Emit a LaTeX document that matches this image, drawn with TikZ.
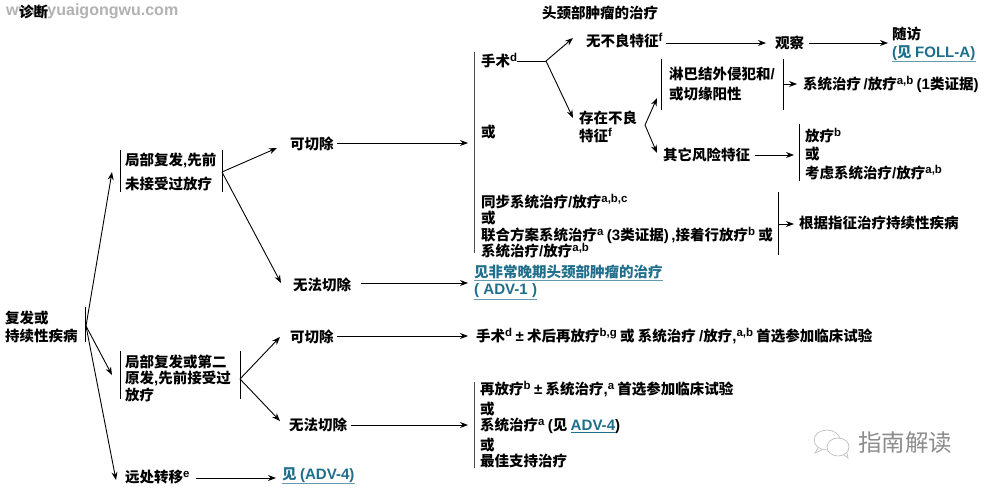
\documentclass[tikz,border=0pt]{standalone}
\usepackage{fontspec}
\usetikzlibrary{arrows.meta}
\setmainfont{Noto Sans CJK SC}
\newfontfamily\latfont[Scale=1.04]{Liberation Sans}
\newcommand{\La}[1]{{\latfont\bfseries #1}}
\newcommand{\Up}[1]{\raisebox{5pt}{\fontsize{11}{11}\selectfont\latfont\bfseries #1}}
\definecolor{linkblue}{HTML}{1F6E8C}
\tikzset{
  txt/.style={anchor=west,inner sep=0pt,align=left,font=\fontsize{14.5}{16.5}\selectfont\bfseries},
  linktxt/.style={txt,text=linkblue},
  arr/.style={-{Stealth[length=8pt,width=6pt]},line width=0.9pt},
  stem/.style={line width=0.9pt},
  barline/.style={line width=0.9pt},
  mainbar/.style={line width=1.7pt,black!70},
  linkline/.style={line width=0.9pt,linkblue!70}
}
\begin{document}
\begin{tikzpicture}[x=1pt,y=-1pt]
  \useasboundingbox (0,0) rectangle (995,487);
  \node[anchor=west,inner sep=0pt,text=black!30,font=\fontsize{15.4}{17}\selectfont\latfont\bfseries] (site) at (6,11) {www.yuaigongwu.com};
  \node[txt] (diag) at (19,12) {诊断};
  \node[txt] (title) at (542,13) {头颈部肿瘤的治疗};
  \node[txt] (recur) at (5,327) {复发或\\[1.5pt]持续性疾病};
  \node[txt] (localA) at (125,172) {局部复发\La{,}先前\\[7pt]未接受过放疗};
  \node[txt] (localB) at (125,378) {局部复发或第二\\原发\La{,}先前接受过\\放疗};
  \node[txt] (distant) at (125,477) {远处转移\Up{e}};
  \node[linktxt] (seeAdvB) at (282,475) {见 \La{(ADV-4)}};
  \node[txt] (cutA) at (290,144) {可切除};
  \node[txt] (nocutA) at (293,285) {无法切除};
  \node[txt] (cutB) at (290,337) {可切除};
  \node[txt] (nocutB) at (289,425) {无法切除};
  \node[txt] (surgery) at (481,61) {手术\Up{d}};
  \node[txt] (orA) at (481,132) {或};
  \node[txt] (chemoA) at (481,226) {同步系统治疗\La{/}放疗\Up{a,b,c}\\或\\联合方案系统治疗\Up{a} \La{(3}类证据\La{)\,,}接着行放疗\Up{b} 或\\系统治疗\La{/}放疗\Up{a,b}};
  \node[linktxt] (seeAdvA) at (474,272) {见非常晚期头颈部肿瘤的治疗};
  \node[linktxt] (seeAdvC) at (474,291) {\La{( ADV-1 )}};
  \node[txt] (planB) at (476,336) {手术\Up{d} \La{±} 术后再放疗\Up{b,g} 或 系统治疗 \La{/}放疗\La{,}\Up{a,b} 首选参加临床试验};
  \node[txt] (planC) at (480,425) {再放疗\Up{b} \La{±} 系统治疗\La{,}\Up{a} 首选参加临床试验\\[3pt]或\\系统治疗\Up{a} \La{(}见 \textcolor{linkblue}{\underline{\La{ADV-4}}}\La{)}\\[3pt]或\\最佳支持治疗};
  \node[txt] (noRisk) at (586,41) {无不良特征\Up{f}};
  \node[txt] (risk) at (579,127) {存在不良\\[2pt]特征\Up{f}};
  \node[txt] (watch) at (775,43) {观察};
  \node[txt] (follow) at (892,34) {随访};
  \node[linktxt] (seeFoll) at (892,53) {\La{(}见 \La{FOLL-A)}};
  \node[txt] (nodes) at (669,84) {淋巴结外侵犯和\La{/}\\[4pt]或切缘阳性};
  \node[txt] (sysA) at (803,84) {系统治疗\,\La{/}放疗\Up{a,b} \La{(1}类证据\La{)}};
  \node[txt] (other) at (663,155) {其它风险特征};
  \node[txt] (radio) at (805,154) {放疗\Up{b}\\[2pt]或\\[2pt]考虑系统治疗\La{/}放疗\Up{a,b}};
  \node[txt] (persist) at (799,223) {根据指征治疗持续性疾病};
  \node[anchor=west,inner sep=0pt,text=black!45,font=\fontsize{23.5}{24}\selectfont] (brand) at (858,443) {指南解读};
  \coordinate (recurFork) at (86,326);
  \coordinate (localAFork) at (222,172);
  \coordinate (localBFork) at (240,379);
  \coordinate (surgeryFork) at (546,61);
  \coordinate (riskFork) at (645,125);
  \coordinate (tipA) at (112,172);
  \coordinate (tipB) at (112,375);
  \coordinate (tipC) at (116,480);
  \coordinate (tipCutA) at (277,148);
  \coordinate (tipNocutA) at (281,283);
  \coordinate (tipCutB) at (280,337);
  \coordinate (tipNocutB) at (280,421);
  \coordinate (tipNoRisk) at (573,38);
  \coordinate (tipRisk) at (573,118);
  \coordinate (tipNodes) at (657,98);
  \coordinate (tipOther) at (657,153);
  \coordinate (barTop) at (468,143);
  \coordinate (barNocut) at (468,283);
  \coordinate (barCut) at (468,336);
  \coordinate (barLow) at (468,425);
  \coordinate (barRadio) at (794,155);
  \coordinate (barNodes) at (783,84);
  \coordinate (barChemo) at (778,224);
  \coordinate (tipWatch) at (766,43);
  \coordinate (tipFollow) at (888,43);
  \coordinate (tipAdvB) at (276,478);
  \foreach \x/\a/\b in {85/307/342,120/150/192,222/150/192,120/351/399,240/351/399,661.5/59/110,783/59/110,778/192/255,799.5/124/181}
    \draw[barline] (\x,\a) -- (\x,\b);
  \foreach \x/\a/\b in {474.5/52/253,474.5/382/468}
    \draw[mainbar] (\x,\a) -- (\x,\b);
  \foreach \n in {seeAdvB,seeAdvA,seeAdvC,seeFoll}
    \draw[linkline] ([yshift=-1pt]\n.south west) -- ([yshift=-1pt]\n.south east);
  \draw[arr] (recurFork) -- (tipA);
  \draw[arr] (recurFork) -- (tipB);
  \draw[arr] (recurFork) -- (tipC);
  \draw[arr] (localAFork) -- (tipCutA);
  \draw[arr] (localAFork) -- (tipNocutA);
  \draw[arr] (localBFork) -- (tipCutB);
  \draw[arr] (localBFork) -- (tipNocutB);
  \draw[arr,shorten <=3pt] (cutA.east |- barTop) -- (barTop);
  \draw[arr,shorten <=10pt] (nocutA.east |- barNocut) -- (barNocut);
  \draw[arr,shorten <=3pt] (cutB.east |- barCut) -- (barCut);
  \draw[arr,shorten <=4pt] (nocutB.east |- barLow) -- (barLow);
  \draw[arr,shorten <=6pt] (distant.east |- tipAdvB) -- (tipAdvB);
  \draw[stem] (surgery.east |- surgeryFork) -- (surgeryFork);
  \draw[arr] (surgeryFork) -- (tipNoRisk);
  \draw[arr] (surgeryFork) -- (tipRisk);
  \draw[arr,shorten <=3pt] (noRisk.east |- tipWatch) -- (tipWatch);
  \draw[arr,shorten <=5pt] (watch.east |- tipFollow) -- (tipFollow);
  \draw[arr] (riskFork) -- (tipNodes);
  \draw[arr] (riskFork) -- (tipOther);
  \draw[arr] (barNodes) -- ([xshift=-6pt]sysA.west |- barNodes);
  \draw[arr,shorten <=5pt] (other.east |- barRadio) -- (barRadio);
  \draw[arr] (barChemo) -- ([xshift=-5pt]persist.west |- barChemo);
  % chat bubbles
  \draw[black!25,line width=0.7pt,fill=white] (827,440) ellipse (13pt and 10pt);
  \draw[black!25,line width=0.7pt,fill=white] (838,447) ellipse (11pt and 9pt);
  \draw[black!25,line width=0.7pt] (818,448) -- (815,453) -- (822,450) (844,455) -- (848,458) -- (847,453);
\end{tikzpicture}
\end{document}
